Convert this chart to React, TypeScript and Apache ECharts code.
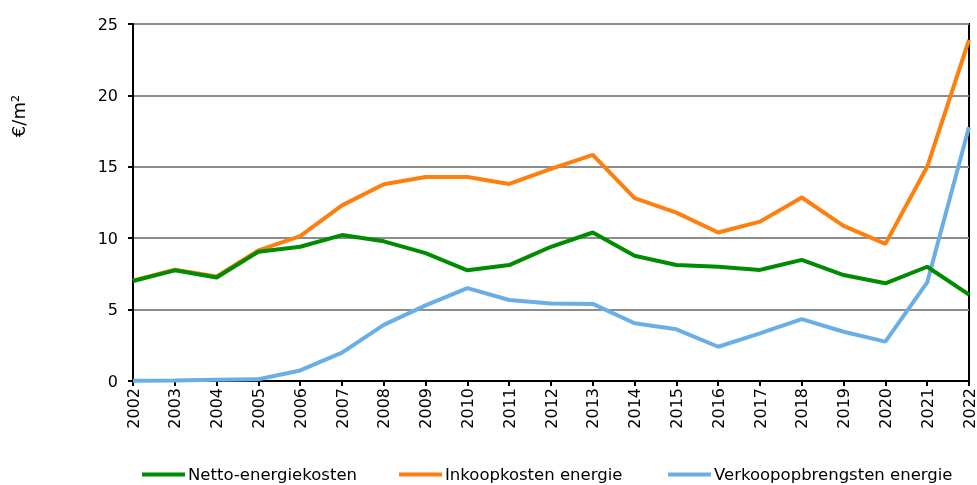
import React, { useEffect, useRef } from "react";
import * as echarts from "echarts";

const years = ["2002","2003","2004","2005","2006","2007","2008","2009","2010","2011","2012","2013","2014","2015","2016","2017","2018","2019","2020","2021","2022"];
const netto = [7.0, 7.75, 7.25, 9.05, 9.4, 10.22, 9.78, 8.95, 7.75, 8.12, 9.4, 10.4, 8.77, 8.12, 8.0, 7.78, 8.48, 7.42, 6.84, 8.0, 6.05];
const inkoop = [7.02, 7.8, 7.32, 9.15, 10.15, 12.3, 13.78, 14.28, 14.28, 13.8, 14.85, 15.83, 12.8, 11.79, 10.4, 11.16, 12.85, 10.86, 9.6, 15.0, 23.88];
const verkoop = [0.02, 0.04, 0.08, 0.12, 0.74, 1.99, 3.93, 5.3, 6.5, 5.67, 5.43, 5.4, 4.04, 3.62, 2.4, 3.34, 4.33, 3.45, 2.76, 6.9, 17.78];
const seriesNames = ["Netto-energiekosten", "Inkoopkosten energie", "Verkoopopbrengsten energie"];
const colors = ["#008c00", "#ff7f0e", "#6aaee6"];

export default function App() {
  const ref = useRef<HTMLDivElement>(null);
  useEffect(() => {
    if (!ref.current) return;
    const chart = echarts.init(ref.current, null, { renderer: "svg" });
    const font = "DejaVu Sans, Verdana, sans-serif";
    const legendLefts = [142, 399, 668];
    const data = [netto, inkoop, verkoop];
    chart.setOption({
      animation: false,
      textStyle: { fontFamily: font },
      grid: {
        left: 133, right: 8, top: 24, bottom: 104,
        show: true, borderColor: "#000", borderWidth: 2,
      },
      xAxis: {
        type: "category",
        data: years,
        boundaryGap: false,
        axisLine: { lineStyle: { color: "#000", width: 2 } },
        axisTick: { show: true, length: 5, lineStyle: { color: "#000", width: 2 } },
        axisLabel: { rotate: 90, color: "#000", fontSize: 16, fontFamily: font, margin: 7, interval: 0 },
      },
      yAxis: {
        type: "value",
        min: 0, max: 25, interval: 5,
        axisLine: { show: true, lineStyle: { color: "#000", width: 2 } },
        axisTick: { show: true, length: 5, lineStyle: { color: "#000", width: 2 } },
        axisLabel: { color: "#000", fontSize: 16, fontFamily: font, margin: 15 },
        splitLine: { lineStyle: { color: "#8c8c8c", width: 2 } },
      },
      legend: seriesNames.map((n, i) => ({
        data: [n],
        left: legendLefts[i],
        top: 466,
        icon: "rect",
        itemWidth: 43,
        itemHeight: 4,
        itemGap: 0,
        textStyle: { color: "#000", fontSize: 16.5, fontFamily: font, padding: [0, 0, 0, -2] },
        padding: 0,
      })),
      graphic: [
        {
          type: "text",
          x: 18,
          y: 116,
          rotation: Math.PI / 2,
          style: {
            text: "€/m²",
            fill: "#000",
            font: "18px " + font,
            align: "center",
            verticalAlign: "middle",
          },
        },
      ],
      series: seriesNames.map((n, i) => ({
        name: n,
        type: "line",
        data: data[i],
        symbol: "none",
        lineStyle: { color: colors[i], width: 4 },
        itemStyle: { color: colors[i] },
        z: i === 0 ? 4 : i === 1 ? 3 : 2,
      })),
    });
    return () => chart.dispose();
  }, []);
  return <div ref={ref} style={{ position: "fixed", left: 0, top: 0, width: 977, height: 485 }} />;
}
